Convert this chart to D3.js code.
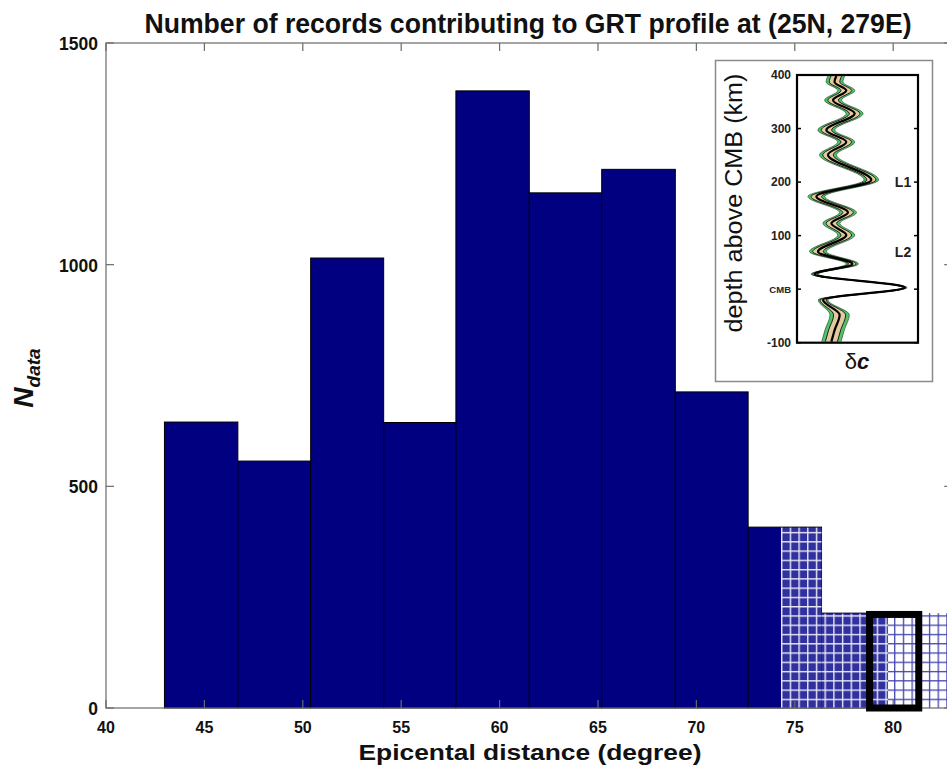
<!DOCTYPE html>
<html><head><meta charset="utf-8">
<script src="https://cdn.jsdelivr.net/npm/d3@7"></script>
<style>
html,body{margin:0;padding:0;background:#fff;}
svg{display:block;font-family:"Liberation Sans",Arial,Helvetica,sans-serif;}
</style></head>
<body>
<svg id="chart" width="947" height="769"></svg>
<script>
// ---------------- data ----------------
const titleText = "Number of records contributing to GRT profile at (25N, 279E)";
const xLabelText = "Epicental distance (degree)";
const xTicks = [40, 45, 50, 55, 60, 65, 70, 75, 80];
const yTicks = [0, 500, 1000, 1500];
const binEdges = [42.97, 46.70, 50.40, 54.11, 57.78, 61.51, 65.19, 68.93, 72.63, 76.36, 79.74];
const counts   = [645, 557, 1015, 644, 1392, 1162, 1215, 713, 408, 214];
const hatchFrom = 74.3;
const ghostBin = [79.74, 83];
const ghostCount = 214;
const boxRange = [78.8, 81.3];
const boxCount = 211;

// inset profile
const insetTickValues = [-100, 0, 100, 200, 300, 400];
const insetTickLabels = ["-100", "CMB", "100", "200", "300", "400"];
const depth = [398, 387, 371, 353, 328, 297, 275, 251, 204, 173, 143, 123, 101, 70, 47, 28, 3, -20, -48, -76, -98];
const dc    = [-0.35, -0.38, -0.185, -0.405, -0.047, -0.515, -0.185, -0.488, 0.229, -0.68, -0.157, -0.432, -0.185, -0.653, -0.085, -0.708, 0.78, -0.57, -0.295, -0.377, -0.432];
const sigma = [0.07, 0.07, 0.07, 0.07, 0.07, 0.07, 0.07, 0.07, 0.06, 0.07, 0.07, 0.07, 0.07, 0.07, 0.05, 0.03, 0.02, 0.04, 0.08, 0.08, 0.08];
const layerLabels = ["L1", "L2"];
const layerDepths = [200, 70];

// ---------------- setup ----------------
const svg = d3.select("#chart");
const x = d3.scaleLinear().domain([40, 83]).range([106, 952.2]);
const y = d3.scaleLinear().domain([0, 1500]).range([708, 43]);
const navy = "#000080";
const axisCol = "#6a6a6a";

function squeeze(sel, f) {
  sel.each(function () {
    const w = this.getComputedTextLength();
    this.setAttribute("textLength", w * f);
    this.setAttribute("lengthAdjust", "spacingAndGlyphs");
  });
}

// patterns
const defs = svg.append("defs");
const pw = 8.7, ph = 9.27;
const pBar = defs.append("pattern").attr("id", "hatchBar").attr("patternUnits", "userSpaceOnUse")
  .attr("x", x(hatchFrom)).attr("y", y(0)).attr("width", pw).attr("height", ph);
pBar.append("rect").attr("width", pw).attr("height", ph).attr("fill", "#30309e");
pBar.append("rect").attr("x", 0).attr("y", 0).attr("width", 1.4).attr("height", ph).attr("fill", "#e8e8f6");
pBar.append("rect").attr("x", 0).attr("y", 0).attr("width", pw).attr("height", 1.4).attr("fill", "#e8e8f6");
const pEmpty = defs.append("pattern").attr("id", "hatchEmpty").attr("patternUnits", "userSpaceOnUse")
  .attr("x", x(hatchFrom)).attr("y", y(0)).attr("width", pw).attr("height", ph);
pEmpty.append("rect").attr("width", pw).attr("height", ph).attr("fill", "#ffffff");
pEmpty.append("rect").attr("x", 0).attr("y", 0).attr("width", 1.3).attr("height", ph).attr("fill", "#4444ae");
pEmpty.append("rect").attr("x", 0).attr("y", 0).attr("width", pw).attr("height", 1.3).attr("fill", "#4444ae");

// ---------------- bars ----------------
const bins = counts.map((c, i) => ({x0: binEdges[i], x1: binEdges[i + 1], c}));
svg.append("g").selectAll("rect").data(bins).join("rect")
  .attr("x", d => x(d.x0)).attr("y", d => y(d.c))
  .attr("width", d => x(d.x1) - x(d.x0)).attr("height", d => y(0) - y(d.c))
  .attr("fill", navy).attr("stroke", "#000").attr("stroke-width", 1);

// hatched overlay
const hb = bins.filter(d => d.x1 > hatchFrom);
svg.append("g").selectAll("rect").data(hb).join("rect")
  .attr("x", d => x(Math.max(d.x0, hatchFrom))).attr("y", d => y(d.c) + 0.5)
  .attr("width", d => x(d.x1) - x(Math.max(d.x0, hatchFrom))).attr("height", d => y(0) - y(d.c) - 0.5)
  .attr("fill", "url(#hatchBar)");
svg.append("rect")
  .attr("x", x(ghostBin[0])).attr("y", y(ghostCount))
  .attr("width", x(ghostBin[1]) - x(ghostBin[0])).attr("height", y(0) - y(ghostCount))
  .attr("fill", "url(#hatchEmpty)");

// ---------------- axes ----------------
const ax = svg.append("g");
ax.append("rect").attr("x", x(40)).attr("y", y(1500)).attr("width", x(83) - x(40)).attr("height", y(0) - y(1500))
  .attr("fill", "none").attr("stroke", axisCol).attr("stroke-width", 1.2);
ax.selectAll(".yt").data(yTicks).join("g").each(function (v) {
  const g = d3.select(this);
  g.append("line").attr("x1", x(40)).attr("x2", x(40) + 8).attr("y1", y(v)).attr("y2", y(v)).attr("stroke", axisCol).attr("stroke-width", 1.2);
  g.append("line").attr("x1", x(83)).attr("x2", x(83) - 8).attr("y1", y(v)).attr("y2", y(v)).attr("stroke", axisCol).attr("stroke-width", 1.2);
});
ax.selectAll(".xt").data(xTicks).join("g").each(function (v) {
  const g = d3.select(this);
  g.append("line").attr("x1", x(v)).attr("x2", x(v)).attr("y1", y(1500)).attr("y2", y(1500) + 8).attr("stroke", axisCol).attr("stroke-width", 1.2);
  g.append("line").attr("x1", x(v)).attr("x2", x(v)).attr("y1", y(0)).attr("y2", y(0) - 8).attr("stroke", axisCol).attr("stroke-width", 1.2);
});
const yl = ax.selectAll(".yl").data(yTicks).join("text")
  .attr("x", 98).attr("y", d => y(d) + 7).attr("text-anchor", "end")
  .attr("font-size", 19).attr("font-weight", "bold").attr("fill", "#111").text(d => d);
squeeze(yl, 0.92);
ax.selectAll(".xl").data(xTicks).join("text")
  .attr("x", d => x(d)).attr("y", 733).attr("text-anchor", "middle")
  .attr("font-size", 16).attr("font-weight", "bold").attr("fill", "#111").text(d => d);

// thick black box
svg.append("rect").attr("x", x(boxRange[0])).attr("y", y(boxCount))
  .attr("width", x(boxRange[1]) - x(boxRange[0])).attr("height", y(0) - y(boxCount))
  .attr("fill", "none").attr("stroke", "#000").attr("stroke-width", 7);

// titles
svg.append("text").attr("x", 528).attr("y", 33).attr("text-anchor", "middle")
  .attr("font-size", 27).attr("font-weight", "bold").attr("fill", "#111")
  .attr("textLength", 767).attr("lengthAdjust", "spacingAndGlyphs").text(titleText);
svg.append("text").attr("x", 530).attr("y", 760).attr("text-anchor", "middle")
  .attr("font-size", 22).attr("font-weight", "bold").attr("fill", "#111")
  .attr("textLength", 343).attr("lengthAdjust", "spacingAndGlyphs").text(xLabelText);
const yt = svg.append("text").attr("transform", "translate(33,378) rotate(-90)").attr("text-anchor", "middle")
  .attr("font-weight", "bold").attr("font-style", "italic").attr("fill", "#111");
yt.append("tspan").attr("font-size", 28).text("N");
yt.append("tspan").attr("font-size", 19).attr("dy", 7).text("data");

// ---------------- inset ----------------
const ins = svg.append("g");
ins.append("rect").attr("x", 715.5).attr("y", 60.5).attr("width", 217).attr("height", 321)
  .attr("fill", "#fff").attr("stroke", "#8a8a8a").attr("stroke-width", 1.5);
const xi = d3.scaleLinear().domain([-1, 1]).range([797, 918]);
const yi = d3.scaleLinear().domain([-100, 400]).range([342.7, 75]);
const prof = depth.map((d, i) => ({d, c: dc[i], s: sigma[i]}));
const cg = ins.append("g");
const areaG = d3.area().curve(d3.curveMonotoneY).y(p => yi(p.d));
cg.append("path").datum(prof).attr("fill", "#4fc46c")
  .attr("d", areaG.x0(p => xi(p.c - 2 * p.s)).x1(p => xi(p.c + 2 * p.s)));
cg.append("path").datum(prof).attr("fill", "#e4c99c")
  .attr("d", areaG.x0(p => xi(p.c - 1.2 * p.s)).x1(p => xi(p.c + 1.2 * p.s)));
const lineG = d3.line().curve(d3.curveMonotoneY).y(p => yi(p.d));
[-1.25, 1.25, -2, 2].forEach(k => {
  cg.append("path").datum(prof).attr("fill", "none").attr("stroke", Math.abs(k) > 1.5 ? "#1a3a1f" : "#222")
    .attr("stroke-width", Math.abs(k) > 1.5 ? 0.6 : 1).attr("d", lineG.x(p => xi(p.c + k * p.s)));
});
cg.append("path").datum(prof).attr("fill", "none").attr("stroke", "#000").attr("stroke-width", 2.2)
  .attr("d", lineG.x(p => xi(p.c)));
ins.append("rect").attr("x", 797).attr("y", 75).attr("width", 121).attr("height", 267.7)
  .attr("fill", "none").attr("stroke", "#000").attr("stroke-width", 2.2);
insetTickValues.forEach(v => {
  ins.append("line").attr("x1", 797).attr("x2", 801).attr("y1", yi(v)).attr("y2", yi(v)).attr("stroke", "#000").attr("stroke-width", 1.5);
  ins.append("line").attr("x1", 918).attr("x2", 914).attr("y1", yi(v)).attr("y2", yi(v)).attr("stroke", "#000").attr("stroke-width", 1.5);
});
ins.selectAll(".il").data(insetTickValues).join("text")
  .attr("x", 791).attr("y", d => yi(d) + 4).attr("text-anchor", "end")
  .attr("font-size", (d, i) => insetTickLabels[i] === "CMB" ? 9.5 : 12).attr("font-weight", "bold").attr("fill", "#222")
  .text((d, i) => insetTickLabels[i]);
ins.selectAll(".ll").data(layerLabels).join("text")
  .attr("x", 903).attr("y", (d, i) => yi(layerDepths[i]) + 5).attr("text-anchor", "middle")
  .attr("font-size", 14).attr("font-weight", "bold").attr("fill", "#222").text(d => d);
ins.append("text").attr("transform", "translate(742,203) rotate(-90)").attr("text-anchor", "middle")
  .attr("font-size", 23).attr("fill", "#111").attr("textLength", 259).attr("lengthAdjust", "spacingAndGlyphs")
  .text("depth above CMB (km)");
const dct = ins.append("text").attr("x", 857).attr("y", 369).attr("text-anchor", "middle").attr("fill", "#111").attr("font-size", 22);
dct.append("tspan").text("δ");
dct.append("tspan").attr("font-style", "italic").attr("font-weight", "bold").text("c");
</script>
</body></html>
